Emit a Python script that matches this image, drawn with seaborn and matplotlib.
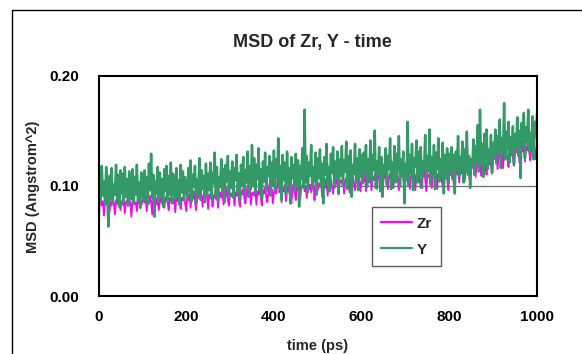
import matplotlib
matplotlib.use("Agg")
import matplotlib.pyplot as plt
import seaborn as sns
import pandas as pd
from matplotlib.lines import Line2D

# ---------------- data ----------------
# time axis: 0 ps, 1 ps, then every 2.5 ps up to 1000 ps
time_ps = [0, 1] + [i * 2.5 for i in range(1, 401)]

# MSD values in units of 10^-3 Angstrom^2 (converted to Angstrom^2 when plotted)
msd_zr_milli = [
    0, 70,
    84, 88, 82, 86, 73, 87, 83, 89, 85, 76, 86, 82, 88, 84, 74, 87, 85, 83, 89, 78,
    86, 83, 88, 75, 85, 87, 82, 89, 84, 72, 86, 88, 83, 85, 77, 87, 84, 89, 82, 86,
    88, 85, 90, 77, 87, 84, 91, 86, 74, 89, 85, 88, 83, 90, 78, 86, 89, 84, 92, 80,
    87, 91, 85, 78, 89, 86, 92, 84, 88, 76, 90, 86, 93, 85, 79, 89, 87, 91, 84, 77,
    90, 87, 93, 80, 91, 88, 95, 86, 78, 92, 89, 94, 87, 91, 81, 93, 88, 96, 90, 79,
    92, 89, 95, 81, 90, 93, 88, 97, 80, 91, 94, 89, 96, 83, 92, 90, 98, 87, 82, 93,
    93, 90, 96, 82, 94, 91, 99, 88, 81, 95, 92, 97, 89, 84, 94, 100, 91, 96, 83, 93,
    94, 91, 97, 83, 95, 92, 101, 89, 82, 96, 93, 99, 90, 85, 95, 102, 92, 97, 84, 94,
    96, 93, 99, 116, 94, 97, 85, 98, 95, 101, 86, 96, 100, 93, 98, 84, 97, 102, 94, 87,
    99, 96, 102, 88, 98, 101, 117, 95, 100, 89, 103, 97, 101, 94, 99, 105, 87, 98, 102, 96,
    102, 99, 105, 90, 101, 104, 98, 107, 91, 103, 100, 106, 99, 93, 104, 101, 108, 100, 92, 103,
    105, 102, 108, 93, 104, 107, 101, 110, 94, 106, 103, 109, 102, 96, 107, 104, 111, 103, 95, 106,
    107, 104, 110, 95, 106, 109, 103, 112, 96, 108, 105, 111, 104, 97, 109, 106, 113, 105, 94, 108,
    109, 106, 112, 97, 108, 111, 105, 114, 98, 110, 107, 113, 106, 96, 111, 108, 115, 107, 99, 110,
    109, 106, 111, 97, 108, 112, 105, 114, 96, 110, 107, 113, 104, 98, 111, 108, 115, 106, 95, 109,
    110, 107, 113, 98, 109, 112, 106, 115, 97, 111, 108, 114, 105, 99, 112, 109, 116, 107, 96, 110,
    112, 109, 115, 101, 113, 116, 110, 118, 103, 114, 111, 119, 112, 104, 116, 113, 120, 111, 102, 115,
    119, 116, 122, 108, 120, 123, 117, 125, 109, 121, 118, 126, 116, 110, 122, 119, 127, 118, 111, 123,
    127, 124, 130, 115, 128, 131, 125, 133, 116, 129, 126, 134, 124, 117, 130, 127, 135, 126, 118, 131,
    133, 130, 136, 121, 134, 137, 131, 139, 122, 135, 132, 140, 130, 123, 136, 133, 141, 132, 124, 138,
]

msd_y_milli = [
    0, 90,
    112, 86, 118, 91, 104, 83, 117, 95, 63, 109, 88, 116, 84, 101, 92, 119, 87, 110, 81, 114,
    93, 111, 85, 117, 90, 106, 82, 113, 96, 88, 115, 84, 108, 92, 119, 86, 103, 80, 112, 94,
    87, 114, 91, 108, 83, 120, 96, 129, 89, 110, 72, 104, 93, 117, 85, 112, 90, 106, 81, 115,
    95, 118, 86, 109, 92, 121, 84, 111, 97, 88, 116, 90, 105, 83, 119, 94, 113, 87, 108, 98,
    89, 116, 95, 123, 86, 110, 99, 118, 84, 106, 93, 125, 88, 114, 97, 109, 85, 120, 92, 111,
    96, 121, 88, 112, 102, 130, 91, 117, 86, 108, 99, 124, 93, 115, 85, 119, 104, 127, 90, 113,
    98, 122, 89, 116, 105, 128, 94, 111, 87, 119, 100, 126, 92, 114, 103, 131, 90, 118, 97, 137,
    101, 125, 93, 119, 106, 134, 97, 115, 88, 122, 104, 130, 95, 117, 109, 127, 91, 121, 100, 132,
    96, 124, 108, 143, 99, 118, 87, 128, 105, 121, 93, 131, 102, 116, 84, 126, 107, 119, 95, 129,
    100, 123, 81, 118, 106, 134, 98, 169, 103, 127, 94, 121, 109, 137, 97, 117, 104, 130, 92, 125,
    107, 133, 99, 120, 84, 126, 110, 138, 101, 117, 95, 129, 112, 135, 98, 122, 106, 131, 93, 124,
    109, 136, 100, 123, 113, 140, 97, 127, 106, 132, 90, 119, 111, 138, 103, 125, 96, 133, 108, 128,
    102, 130, 112, 137, 99, 124, 108, 141, 104, 128, 114, 150, 98, 122, 110, 135, 95, 126, 90, 119,
    111, 134, 101, 127, 115, 143, 97, 121, 107, 136, 103, 129, 113, 145, 99, 124, 109, 131, 84, 120,
    105, 158, 100, 128, 112, 138, 96, 125, 117, 141, 103, 131, 109, 135, 98, 122, 114, 146, 106, 127,
    113, 151, 101, 126, 108, 137, 97, 130, 115, 143, 104, 124, 111, 139, 93, 128, 107, 134, 102, 129,
    112, 135, 106, 128, 93, 131, 116, 145, 109, 126, 118, 140, 103, 133, 114, 149, 110, 127, 98, 124,
    117, 142, 110, 136, 121, 155, 113, 169, 119, 138, 108, 147, 124, 151, 115, 133, 122, 146, 112, 139,
    126, 151, 120, 145, 131, 160, 116, 143, 128, 175, 124, 149, 133, 158, 121, 144, 130, 154, 119, 147,
    134, 162, 127, 150, 107, 157, 138, 166, 125, 153, 140, 169, 131, 148, 136, 163, 124, 158, 145, 165,
]

x_ticks = [0, 200, 400, 600, 800, 1000]
y_ticks = [0.00, 0.10, 0.20]
series_names = ["Zr", "Y"]
series_colors = {"Zr": "#ff00ff", "Y": "#339966"}
title_text = "MSD of Zr, Y - time"
x_label = "time (ps)"
y_label = "MSD (Angstrom^2)"

# ---------------- styling ----------------
sns.set_style("white")
plt.rcParams["font.family"] = ["Liberation Sans", "DejaVu Sans"]
plt.rcParams["font.weight"] = "bold"

W, H = 582, 354
fig = plt.figure(figsize=(W / 100, H / 100), dpi=100)
ax_l, ax_r, ax_t, ax_b = 98.5, 537.0, 75.5, 296.0
ax = fig.add_axes([ax_l / W, 1 - ax_b / H, (ax_r - ax_l) / W, (ax_b - ax_t) / H])

df = pd.DataFrame({
    "time": time_ps * 2,
    "msd": [v / 1000 for v in msd_zr_milli] + [v / 1000 for v in msd_y_milli],
    "species": [series_names[0]] * len(time_ps) + [series_names[1]] * len(time_ps),
})

ax.axhline(0.10, color="#6e6e6e", lw=0.9, zorder=0)
sns.lineplot(data=df, x="time", y="msd", hue="species",
             palette=series_colors, hue_order=series_names, ax=ax,
             legend=True, estimator=None, sort=False)
# thicker strokes so the dense noisy traces read as solid bands
for line, lw in zip(ax.get_lines()[1:], [1.3, 1.8]):
    line.set_linewidth(lw)

ax.set_xlim(0, 1000)
ax.set_ylim(0, 0.20)
ax.set_xticks(x_ticks)
ax.set_yticks(y_ticks)
ax.set_xticklabels([str(v) for v in x_ticks], fontsize=11, fontweight="bold")
ax.set_yticklabels([f"{v:.2f}" for v in y_ticks], fontsize=11, fontweight="bold")
ax.tick_params(axis="x", direction="in", length=4, width=0.8, pad=10, colors="black")
ax.tick_params(axis="y", length=0, pad=14, colors="black")
ax.grid(False)
for s in ax.spines.values():
    s.set_color("black")
    s.set_linewidth(1.5)

ax.set_xlabel(x_label, fontsize=10.5, fontweight="bold")
ax.set_ylabel(y_label, fontsize=10.5, fontweight="bold")
ax.xaxis.set_label_coords((318 - ax_l) / (ax_r - ax_l), -(346 - ax_b) / (ax_b - ax_t))
ax.yaxis.set_label_coords(-(ax_l - 33) / (ax_r - ax_l), (ax_b - 187) / (ax_b - ax_t))
ax.xaxis.label.set_va("center")
ax.yaxis.label.set_va("center")

fig.text(312 / W, 1 - 43 / H, title_text, ha="center", va="center",
         fontsize=13, fontweight="bold")

leg = ax.legend(title=None, loc="lower left",
                bbox_to_anchor=((372 - ax_l) / (ax_r - ax_l), (ax_b - 266) / (ax_b - ax_t)),
                frameon=True, fancybox=False, fontsize=11, handlelength=2.0,
                borderpad=0.6, labelspacing=0.8, handletextpad=0.3,
                borderaxespad=0)
leg.get_frame().set_edgecolor("#333333")
leg.get_frame().set_linewidth(1.0)
for t in leg.get_texts():
    t.set_fontweight("bold")
for h in leg.get_lines():
    h.set_linewidth(1.6)

# outer chart-area frame (top and left edges visible)
fx, fy = 12 / W, 1 - 10 / H
fig.add_artist(Line2D([fx, fx], [0, fy], transform=fig.transFigure, color="black", lw=1.0))
fig.add_artist(Line2D([fx, 1], [fy, fy], transform=fig.transFigure, color="black", lw=1.0))

fig.savefig("out.png", dpi=100)
